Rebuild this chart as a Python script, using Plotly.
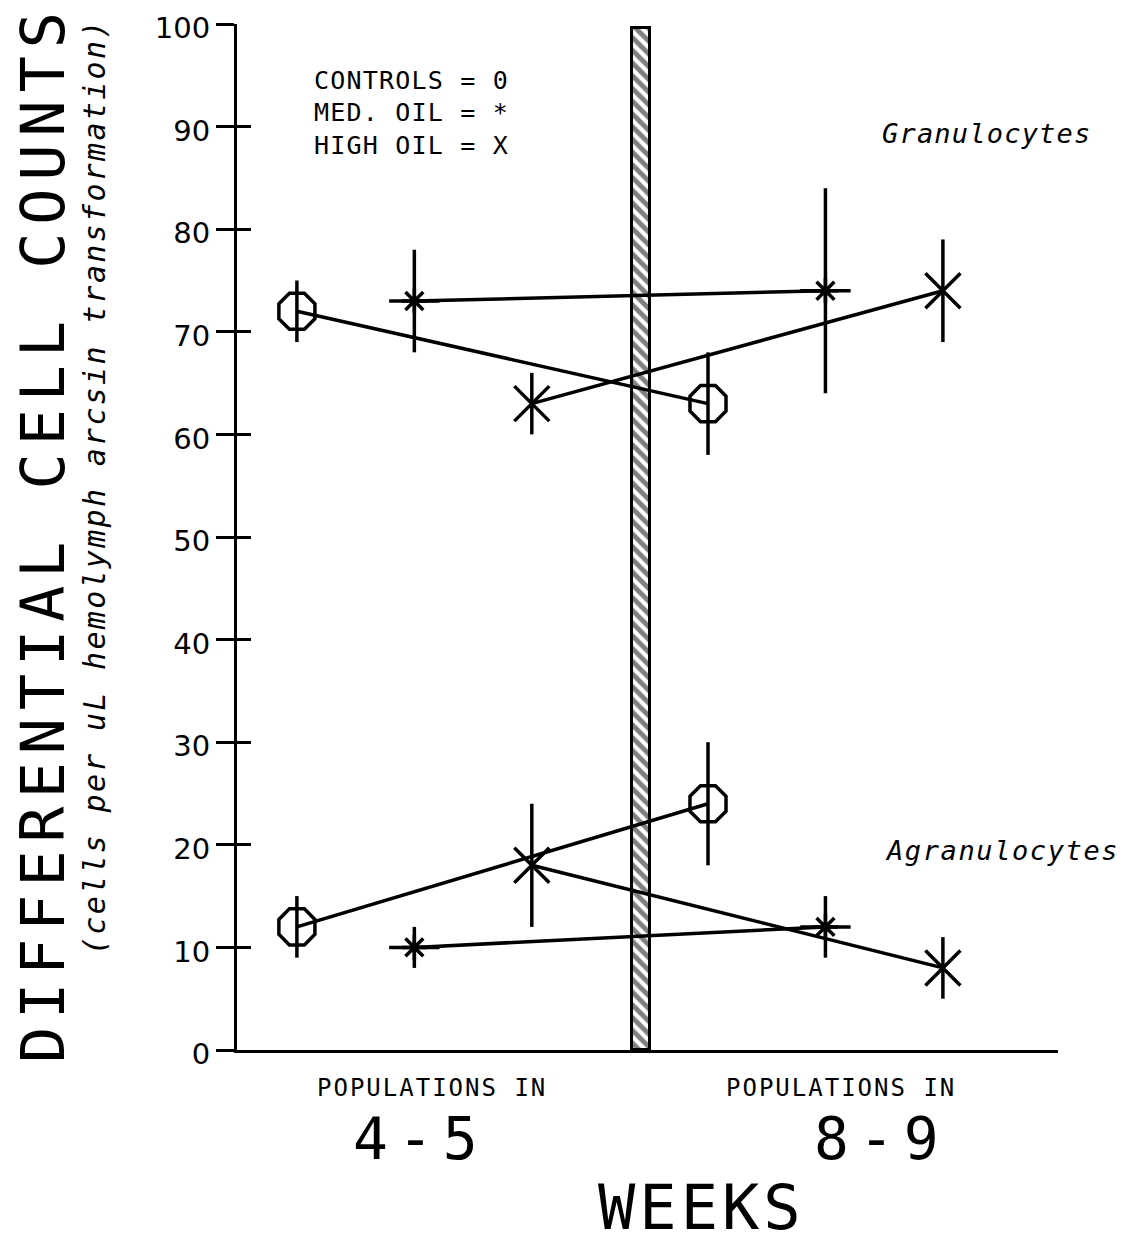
import plotly.graph_objects as go

# ---------------- data ----------------
groups = ["4-5", "8-9"]
treatments = ["CONTROLS", "MED. OIL", "HIGH OIL"]

gran_controls = [72, 63]
gran_controls_err = [3, 5]
gran_med = [73, 74]
gran_med_err = [5, 10]
gran_high = [63, 74]
gran_high_err = [3, 5]

agran_controls = [12, 24]
agran_controls_err = [3, 6]
agran_med = [10, 12]
agran_med_err = [2, 3]
agran_high = [18, 8]
agran_high_err = [6, 3]

y_ticks = [0, 10, 20, 30, 40, 50, 60, 70, 80, 90, 100]

# ---------------- layout constants ----------------
W, H = 1130, 1244
OFF = 8  # page body margin of the html page
# target plot area in screen pixels
X0, X1, Y100, Y0 = 237, 1058, 24, 1050
ML = X0 - OFF
PW = X1 - X0
MR = W - ML - PW
MT = Y100 - OFF
PH = Y0 - Y100
MB = H - MT - PH

# x positions of the three treatments within each time group
group_start = {"4-5": 1.0, "8-9": 4.5}
treat_offset = {"CONTROLS": 0.0, "MED. OIL": 1.0, "HIGH OIL": 2.0}
divider_x = 3.93
x_range = [0.49, 7.48]


def xs(treat):
    return [group_start[g] + treat_offset[treat] for g in groups]


def px(xp):
    return (xp - X0) / PW


def py(yp):
    return (Y0 - yp) / PH


MONO = "DejaVu Sans Mono"
SANS = "DejaVu Sans"

fig = go.Figure()

# hatched divider bar
fig.add_trace(go.Bar(
    x=[divider_x], y=[99.6], width=0.16,
    marker=dict(color="white", line=dict(color="black", width=3),
                pattern=dict(shape="\\", fgcolor="black", bgcolor="white",
                             size=9, solidity=0.55)),
    showlegend=False, hoverinfo="skip"))

LW = 3.5
series = [
    ("CONTROLS", gran_controls, gran_controls_err),
    ("MED. OIL", gran_med, gran_med_err),
    ("HIGH OIL", gran_high, gran_high_err),
    ("CONTROLS", agran_controls, agran_controls_err),
    ("MED. OIL", agran_med, agran_med_err),
    ("HIGH OIL", agran_high, agran_high_err),
]

for treat, vals, errs in series:
    if treat == "CONTROLS":
        sym, size = "octagon-open", 39
    elif treat == "MED. OIL":
        sym, size = "asterisk-open", 21
    else:
        sym, size = "x-thin-open", 35
    fig.add_trace(go.Scatter(
        x=xs(treat), y=vals, mode="lines+markers",
        line=dict(color="black", width=LW),
        marker=dict(symbol=sym, size=size, color="black",
                    line=dict(color="black", width=LW)),
        error_y=dict(type="data", array=errs, visible=True,
                     color="black", thickness=LW, width=0),
        showlegend=False, hoverinfo="skip"))
    if treat == "MED. OIL":
        # horizontal arm of the plotted asterisk
        fig.add_trace(go.Scatter(
            x=xs(treat), y=vals, mode="markers",
            marker=dict(symbol="line-ew-open", size=36, color="black",
                        line=dict(color="black", width=LW)),
            showlegend=False, hoverinfo="skip"))

annotations = []


def ann(text, x, y, size, family=MONO, xanchor="center", angle=0,
        spacing=0, italic=False):
    style = ""
    if italic:
        style += "font-style:italic;"
    if spacing:
        # letter-spacing on all but the last glyph, so no trailing gap
        t = '<span style="%sletter-spacing:%spx">%s</span>' % (style, spacing, text[:-1])
        t += '<span style="%s">%s</span>' % (style, text[-1]) if style else text[-1]
    else:
        t = '<span style="%s">%s</span>' % (style, text) if style else text
    annotations.append(dict(
        text=t, xref="paper", yref="paper", x=px(x), y=py(y),
        xanchor=xanchor, yanchor="middle", showarrow=False,
        textangle=angle, font=dict(family=family, size=size, color="black")))


# axis titles
ann("DIFFERENTIAL CELL COUNTS", 43, 538, 60, angle=-90, spacing=8.0)
ann("(cells per uL hemolymph arcsin transformation)", 94, 488, 30,
    angle=-90, spacing=2.3, italic=True)

# key
ann("CONTROLS = 0", 312, 80, 25, xanchor="left", spacing=1.2)
ann("MED. OIL = *", 312, 112, 25, xanchor="left", spacing=1.2)
ann("HIGH OIL = X", 312, 145, 25, xanchor="left", spacing=1.2)

# panel labels
ann("Granulocytes", 880, 133, 27, xanchor="left", spacing=1.2, italic=True)
ann("Agranulocytes", 883, 850, 27, xanchor="left", spacing=1.6, italic=True)

# x labels
ann("POPULATIONS IN", 431, 1088, 24, spacing=2)
ann("POPULATIONS IN", 840, 1088, 24, spacing=2)
ann(groups[0], 415, 1139, 58, spacing=10)
ann(groups[1], 876, 1139, 58, spacing=10)
ann("WEEKS", 699, 1207, 62, spacing=4)

fig.update_layout(
    width=W, height=H,
    margin=dict(l=ML, r=MR, t=MT, b=MB, pad=0, autoexpand=False),
    paper_bgcolor="white", plot_bgcolor="white",
    showlegend=False, bargap=0,
    annotations=annotations,
    xaxis=dict(range=x_range, showgrid=False, zeroline=False, automargin=False,
               showline=True, linecolor="black", linewidth=3,
               showticklabels=False, ticks=""),
    yaxis=dict(range=[0, 100], tickvals=y_ticks, showgrid=False, zeroline=False,
               automargin=False,
               showline=True, linecolor="black", linewidth=3,
               ticks="outside", ticklen=18, tickwidth=3, tickcolor="black",
               ticklabelstandoff=0, ticklabelshift=4, ticklabeloverflow="allow",
               tickfont=dict(family=SANS, size=29, color="black")),
    yaxis2=dict(range=[0, 100], tickvals=y_ticks, overlaying="y", side="left",
                anchor="x", showgrid=False, zeroline=False, showline=False,
                automargin=False,
                ticks="inside", ticklen=14, tickwidth=3, tickcolor="black",
                showticklabels=False),
)

# invisible trace to activate the inner tick axis
fig.add_trace(go.Scatter(x=[x_range[0]], y=[0], yaxis="y2", mode="markers",
                         marker=dict(opacity=0), showlegend=False, hoverinfo="skip"))

fig.write_html("out.html")
